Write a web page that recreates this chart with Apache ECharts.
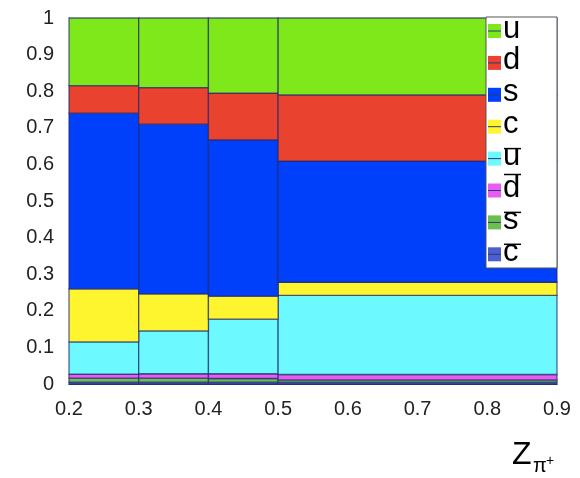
<!DOCTYPE html>
<html>
<head>
<meta charset="utf-8">
<script src="https://cdn.jsdelivr.net/npm/echarts@6/dist/echarts.min.js"></script>
<style>html,body{margin:0;padding:0;background:#fff;}#c{width:580px;height:478px;}</style>
</head>
<body>
<div id="c"></div>
<script>
// Bin edges in Z_{pi+}
const binEdges = [0.2, 0.3, 0.4, 0.5, 0.9];
// Fractions per bin for each flavor
const u    = [0.185, 0.190, 0.205, 0.210];
const d    = [0.075, 0.100, 0.128, 0.181];
const s    = [0.480, 0.464, 0.427, 0.331];
const c    = [0.145, 0.101, 0.063, 0.036];
const ubar = [0.088, 0.117, 0.149, 0.216];
const dbar = [0.011, 0.012, 0.013, 0.015];
const sbar = [0.011, 0.011, 0.010, 0.006];
const cbar = [0.005, 0.005, 0.005, 0.005];
// Legend / series
const names = ['u', 'd', 's', 'c', 'ubar', 'dbar', 'sbar', 'cbar'];
const letters = ['u', 'd', 's', 'c', 'u', 'd', 's', 'c'];
const overline = [false, false, false, false, true, true, true, true];
const colors = ['#7fe81a', '#e9432f', '#0040fb', '#fff52f', '#6cf9ff', '#e95cf2', '#6cbf4e', '#4c5fcc'];
const yTicks = [0, 0.1, 0.2, 0.3, 0.4, 0.5, 0.6, 0.7, 0.8, 0.9, 1];
const xTicks = [0.2, 0.3, 0.4, 0.5, 0.6, 0.7, 0.8, 0.9];

const valuesByName = { u, d, s, c, ubar, dbar, sbar, cbar };
const stackOrder = ['cbar', 'sbar', 'dbar', 'ubar', 'c', 's', 'd', 'u'];

// build stacked rect data
const cum = binEdges.slice(0, -1).map(() => 0);
const rectData = {};
stackOrder.forEach(n => {
  rectData[n] = valuesByName[n].map((v, i) => {
    const y0 = cum[i];
    cum[i] += v;
    return [binEdges[i], binEdges[i + 1], y0, cum[i]];
  });
});

const series = stackOrder.map(n => ({
  type: 'custom',
  name: n,
  encode: { x: [0, 1], y: [2, 3] },
  data: rectData[n],
  renderItem: function (params, api) {
    const p0 = api.coord([api.value(0), api.value(3)]);
    const p1 = api.coord([api.value(1), api.value(2)]);
    return {
      type: 'rect',
      shape: { x: p0[0], y: p0[1], width: p1[0] - p0[0], height: p1[1] - p0[1] },
      style: { fill: colors[names.indexOf(n)], stroke: 'rgba(30,40,110,0.7)', lineWidth: 1.3 }
    };
  }
}));

// legend via graphic
const legendChildren = [{
  type: 'rect',
  shape: { x: 486, y: 17, width: 71, height: 251 },
  style: { fill: '#fff', stroke: '#555', lineWidth: 1 },
  z: 100
}];
names.forEach((n, i) => {
  const cy = 31 + i * 31.9;
  legendChildren.push({
    type: 'rect', shape: { x: 488, y: cy - 7, width: 13, height: 14 },
    style: { fill: colors[i] }, z: 101
  });
  legendChildren.push({
    type: 'line', shape: { x1: 488, y1: cy, x2: 501, y2: cy },
    style: { stroke: '#2a3a7a', lineWidth: 1 }, z: 102
  });
  legendChildren.push({
    type: 'text', x: 503, y: cy - 2,
    style: { text: letters[i], font: '31px "Liberation Sans", Arial, sans-serif', fill: '#000', verticalAlign: 'middle', align: 'left' },
    z: 102
  });
  if (overline[i]) {
    const top = (letters[i] === 'd') ? cy - 16 : cy - 10;
    legendChildren.push({
      type: 'line', shape: { x1: 504, y1: top, x2: 521, y2: top },
      style: { stroke: '#000', lineWidth: 1.5 }, z: 102
    });
  }
});

const chart = echarts.init(document.getElementById('c'), null, { renderer: 'canvas' });
chart.setOption({
  backgroundColor: '#fff',
  animation: false,
  grid: { left: 69, right: 23, top: 18, bottom: 94, containLabel: false },
  xAxis: {
    type: 'value', min: 0.2, max: 0.9, interval: 0.1,
    axisLine: { show: true, lineStyle: { color: '#2a3a9a', width: 1 } },
    axisTick: { show: false },
    splitLine: { show: false },
    axisLabel: {
      margin: 15, color: '#222', fontSize: 20, fontFamily: '"Liberation Sans", Arial, sans-serif',
      formatter: v => v.toFixed(1)
    }
  },
  yAxis: {
    type: 'value', min: 0, max: 1, interval: 0.1,
    axisLine: { show: true, lineStyle: { color: '#2a3a9a', width: 1 } },
    axisTick: { show: false },
    splitLine: { show: false },
    axisLabel: {
      margin: 15, color: '#222', fontSize: 20, fontFamily: '"Liberation Sans", Arial, sans-serif',
      formatter: v => { const r = Math.round(v * 10) / 10; return (r === 0 || r === 1) ? String(r) : r.toFixed(1); }
    }
  },
  series: series,
  graphic: [
    { type: 'group', children: legendChildren },
    { type: 'text', x: 512, y: 455, style: { text: 'Z', font: '32px "Liberation Sans", Arial, sans-serif', fill: '#000', verticalAlign: 'middle' }, z: 100 },
    { type: 'text', x: 533, y: 466, style: { text: 'π', font: '20px "Liberation Sans", Arial, sans-serif', fill: '#000', verticalAlign: 'middle' }, z: 100 },
    { type: 'text', x: 546, y: 461, style: { text: '+', font: '14px "Liberation Sans", Arial, sans-serif', fill: '#000', verticalAlign: 'middle' }, z: 100 }
  ]
});
</script>
</body>
</html>
